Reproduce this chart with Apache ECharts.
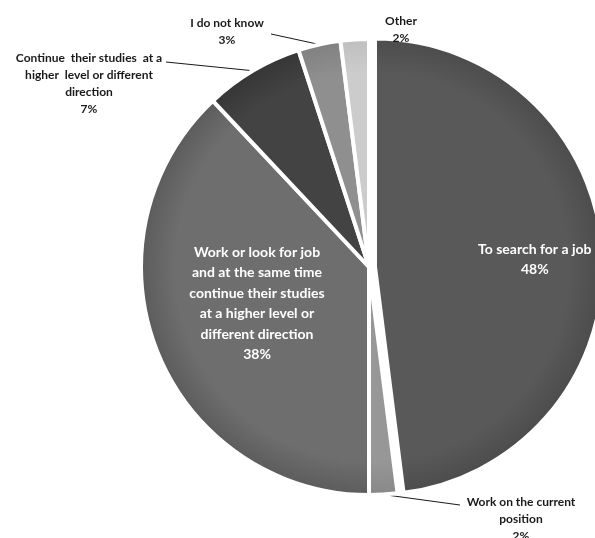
<!DOCTYPE html>
<html>
<head>
<meta charset="utf-8">
<script src="https://cdn.jsdelivr.net/npm/echarts@6/dist/echarts.min.js"></script>
<style>
html,body{margin:0;padding:0;background:#fff;}
#chart{width:595px;height:538px;}
</style>
</head>
<body>
<div id="chart"></div>
<script>
const categories = [
  'To search for a job',
  'Work on the current position',
  'Work or look for job and at the same time continue their studies at a higher level or different direction',
  'Continue their studies at a higher level or different direction',
  'I do not know',
  'Other'
];
const values = [48, 2, 38, 7, 3, 2];
const labelTexts = [
  'To search for a job',
  'Work on the current\nposition',
  'Work or look for job\nand at the same time\ncontinue their studies\nat a higher level or\ndifferent direction',
  'Continue  their studies  at a\nhigher  level or different\ndirection',
  'I do not know',
  'Other'
];
const colorsInner = ['#595959', '#979797', '#6e6e6e', '#434343', '#8f8f8f', '#cccccc'];
const colorsOuter = ['#4c4c4c', '#888888', '#5c5c5c', '#363636', '#818181', '#bfbfbf'];

const CX = 369, CY = 267, R = 228;

function grad(i) {
  return {
    type: 'radial', x: CX, y: CY, r: R, global: true,
    colorStops: [
      { offset: 0, color: colorsInner[i] },
      { offset: 0.85, color: colorsInner[i] },
      { offset: 1, color: colorsOuter[i] }
    ]
  };
}

const insideIdx = [0, 2];
// label placement (text centre x, top y) and leader end points
const labelPos = {
  1: { x: 521, y: 494 },
  2: { x: 257, y: 242 },
  3: { x: 89, y: 50 },
  4: { x: 227, y: 15 },
  5: { x: 401, y: 13 }
};
const leaderEnd = {
  1: [460, 505],
  3: [166, 62],
  4: [271, 34]
};

const data = categories.map((c, i) => ({
  name: c,
  value: values[i],
  selected: i === 0,
  itemStyle: { color: grad(i) },
  label: insideIdx.includes(i) ? {
    position: 'inside',
    color: '#ffffff',
    fontSize: 14,
    lineHeight: 20.5,
    fontWeight: 'bold',
    padding: i === 0 ? [23, 0, 0, 86] : 0
  } : {
    position: 'outside',
    color: '#1a1a1a',
    fontSize: 12,
    lineHeight: 17,
    fontWeight: 'bold'
  },
  labelLine: { show: leaderEnd[i] !== undefined }
}));

const chart = echarts.init(document.getElementById('chart'), null, { renderer: 'canvas' });
chart.setOption({
  animation: false,
  backgroundColor: '#ffffff',
  series: [{
    type: 'pie',
    center: [CX, CY],
    radius: [0, R],
    startAngle: 90,
    clockwise: true,
    selectedMode: 'multiple',
    selectedOffset: 6,
    avoidLabelOverlap: false,
    itemStyle: { borderColor: '#ffffff', borderWidth: 4 },
    label: {
      show: true,
      fontFamily: 'Lato',
      align: 'center',
      formatter: p => labelTexts[p.dataIndex] + '\n' + p.value + '%'
    },
    labelLine: {
      show: true,
      lineStyle: { color: '#1a1a1a', width: 1 },
      length: 10,
      length2: 10
    },
    emphasis: { disabled: true },
    labelLayout: function (params) {
      const i = params.dataIndex;
      if (i === 0) {
        return { align: 'center', verticalAlign: 'middle' };
      }
      const pos = labelPos[i];
      const out = { x: pos.x, y: pos.y, align: 'center', verticalAlign: 'top' };
      if (leaderEnd[i] && params.labelLinePoints) {
        const a = params.labelLinePoints[0];
        out.labelLinePoints = [[a[0], a[1]], leaderEnd[i], leaderEnd[i]];
      }
      return out;
    },
    data: data
  }]
});
</script>
</body>
</html>
